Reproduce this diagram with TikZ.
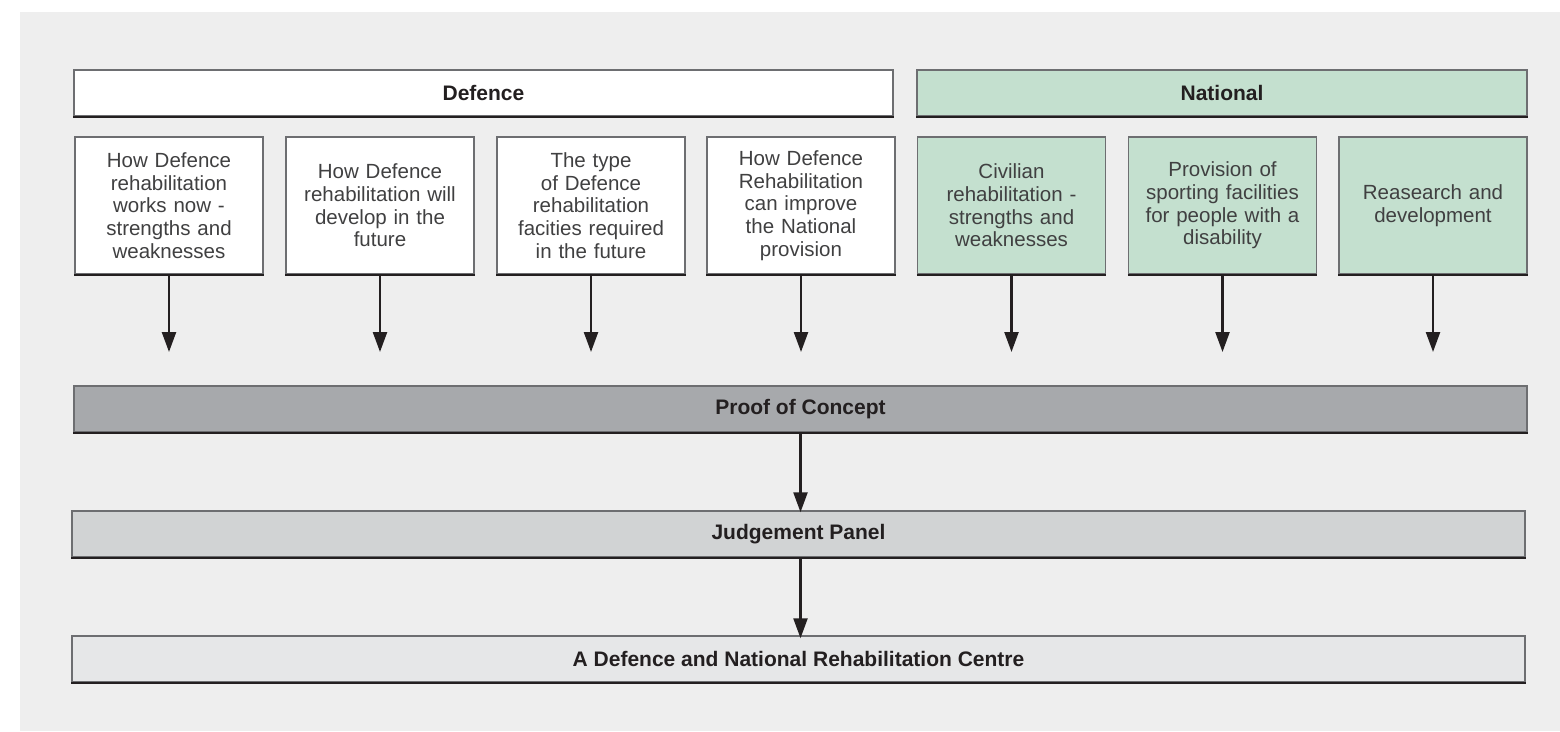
\documentclass[tikz,border=0pt]{standalone}
\usepackage{fontspec}
\setmainfont{Liberation Sans}
\usetikzlibrary{arrows.meta}
\definecolor{bggrey}{HTML}{EEEEEE}
\definecolor{natgreen}{HTML}{C4E0CF}
\definecolor{proofgrey}{HTML}{A7A9AC}
\definecolor{judgegrey}{HTML}{D1D3D4}
\definecolor{finalgrey}{HTML}{E6E7E8}
\definecolor{edgegrey}{HTML}{6D6E71}
\definecolor{edgedark}{HTML}{231F20}
\definecolor{bodytext}{HTML}{404041}
\tikzset{
  box/.style={draw=edgegrey, line width=1.5pt, fill=white, inner sep=0pt,
    minimum width=188pt, minimum height=137pt, text width=180pt, align=center,
    text=bodytext, font=\fontsize{20.5}{22.7}\selectfont},
  gbox/.style={box, fill=natgreen},
  bar/.style={draw=edgegrey, line width=1.5pt, inner sep=0pt, minimum height=46pt,
    text=edgedark, font=\bfseries\fontsize{21}{23}\selectfont},
  bottomedge/.style={draw=edgedark, line width=1.6pt},
  flow/.style={draw=edgedark, line width=2.4pt, -{Triangle[length=20pt,width=14pt]}}
}
\begin{document}
\begin{tikzpicture}[x=1pt,y=-1pt]
\useasboundingbox (0,0) rectangle (1560,731);
\fill[bggrey] (20,12) rectangle (1560,731);

\node[bar, fill=white, minimum width=819pt] (defence) at (483.5,93) {Defence};
\node[bar, fill=natgreen, minimum width=610pt] (national) at (1222,93) {National};

\node[box] (d1) at (169,205.5) {How Defence\\rehabilitation\\works now -\\strengths and\\weaknesses};
\node[box] (d2) at (380,205.5) {How Defence\\rehabilitation will\\develop in the\\future};
\node[box] (d3) at (591,205.5) {The type\\of Defence\\rehabilitation\\facities required\\in the future};
\node[box] (d4) at (801,205.5) {How Defence\\Rehabilitation\\can improve\\the National\\provision};
\node[gbox] (n1) at (1011.5,205.5) {Civilian\\rehabilitation -\\strengths and\\weaknesses};
\node[gbox] (n2) at (1222.5,205.5) {Provision of\\sporting facilities\\for people with a\\disability};
\node[gbox] (n3) at (1433,205.5) {Reasearch and\\development};

\node[bar, fill=proofgrey, minimum width=1453pt] (proof) at (800.5,409) {Proof of Concept};
\node[bar, fill=judgegrey, minimum width=1453pt] (judge) at (798.5,534) {Judgement Panel};
\node[bar, fill=finalgrey, minimum width=1453pt] (final) at (798.5,659) {A Defence and National Rehabilitation Centre};

\foreach \n in {defence,national,d1,d2,d3,d4,n1,n2,n3,proof,judge,final}
  \draw[bottomedge] (\n.south west) -- (\n.south east);

\foreach \n in {d1,d2,d3,d4,n1,n2,n3}{
  \coordinate (\n-tip) at (\n.south |- 0,352);
  \draw[flow] (\n.south) -- (\n-tip);
}
\draw[flow] (proof.south) -- ([yshift=-2pt]proof.south |- judge.north);
\draw[flow] ([xshift=2pt]judge.south) -- ([xshift=2pt,yshift=-3pt]judge.south |- final.north);
\end{tikzpicture}
\end{document}
